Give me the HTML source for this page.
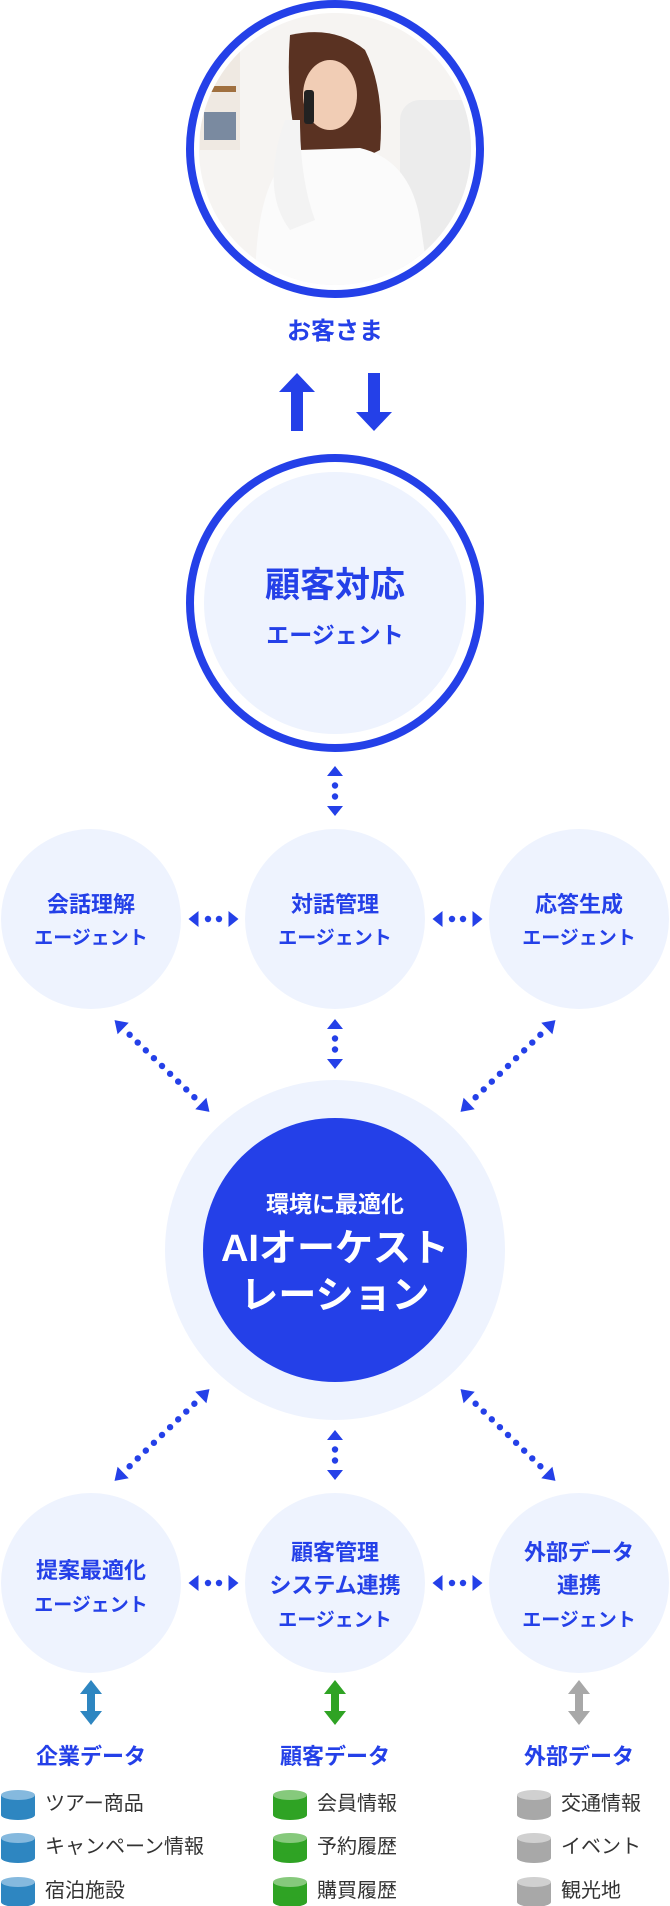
<!DOCTYPE html>
<html><head><meta charset="utf-8"><style>
html,body{margin:0;padding:0;background:#fff;}
svg{display:block;}
text{font-family:"Liberation Sans","Noto Sans CJK JP",sans-serif;}
.b{fill:#2440e8;font-weight:bold;text-anchor:middle;}
.it{fill:#333;font-size:20px;}
</style></head><body>
<svg width="670" height="1906" viewBox="0 0 670 1906" xmlns="http://www.w3.org/2000/svg">
<defs>
<clipPath id="pc"><circle cx="335" cy="149" r="136"/></clipPath>
<g id="sa"><polygon points="-25,0 -15,-8 -15,8"/><polygon points="25,0 15,-8 15,8"/><circle cx="-5.5" cy="0" r="3.2"/><circle cx="5.5" cy="0" r="3.2"/></g>
<g id="la"><polygon points="-66,0 -54,-8 -54,8"/><polygon points="66,0 54,-8 54,8"/>
<circle cx="-45" cy="0" r="3.2"/><circle cx="-33.75" cy="0" r="3.2"/><circle cx="-22.5" cy="0" r="3.2"/><circle cx="-11.25" cy="0" r="3.2"/><circle cx="0" cy="0" r="3.2"/><circle cx="11.25" cy="0" r="3.2"/><circle cx="22.5" cy="0" r="3.2"/><circle cx="33.75" cy="0" r="3.2"/><circle cx="45" cy="0" r="3.2"/></g>
</defs>
<!-- top photo circle -->
<circle cx="335" cy="149" r="145" fill="#fff" stroke="#2440e8" stroke-width="8"/>
<g clip-path="url(#pc)">
<rect x="190" y="10" width="300" height="280" fill="#f6f4f2"/>
<rect x="200" y="40" width="40" height="110" fill="#efe9e2"/>
<rect x="204" y="112" width="32" height="28" fill="#7a8aa0"/>
<rect x="208" y="86" width="28" height="6" fill="#a0703f"/>
<rect x="400" y="100" width="80" height="180" fill="#ececec" rx="20"/>
<path d="M290 35 Q335 25 365 50 Q385 90 380 150 L360 160 L300 160 Q285 100 290 35Z" fill="#5a3222"/>
<ellipse cx="330" cy="95" rx="27" ry="35" fill="#f1cdb5"/>
<path d="M255 290 Q255 170 300 150 L360 148 Q410 160 420 220 L430 290Z" fill="#fbfbfb"/>
<path d="M290 230 Q260 190 285 120 L300 120 Q300 180 315 220Z" fill="#f3f3f3"/>
<rect x="304" y="90" width="10" height="34" rx="3" fill="#222"/>
</g>
<text x="335" y="339" class="b" font-size="24">お客さま</text>
<!-- big arrows -->
<polygon points="297,373 315,392 303,392 303,431 291,431 291,392 279,392" fill="#2440e8"/>
<polygon points="374,431 392,412 380,412 380,373 368,373 368,412 356,412" fill="#2440e8"/>
<!-- customer response agent -->
<circle cx="335" cy="603" r="145" fill="#fff" stroke="#2440e8" stroke-width="8"/>
<circle cx="335" cy="603" r="131" fill="#eef3fe"/>
<text x="335" y="597" class="b" font-size="35">顧客対応</text>
<text x="335" y="643" class="b" font-size="23">エージェント</text>
<!-- top row circles -->
<circle cx="91" cy="919" r="90" fill="#eef3fe"/>
<circle cx="335" cy="919" r="90" fill="#eef3fe"/>
<circle cx="579" cy="919" r="90" fill="#eef3fe"/>
<text x="91" y="912" class="b" font-size="22">会話理解</text>
<text x="91" y="944" class="b" font-size="19">エージェント</text>
<text x="335" y="912" class="b" font-size="22">対話管理</text>
<text x="335" y="944" class="b" font-size="19">エージェント</text>
<text x="579" y="912" class="b" font-size="22">応答生成</text>
<text x="579" y="944" class="b" font-size="19">エージェント</text>
<!-- orchestration -->
<circle cx="335" cy="1250" r="170" fill="#eef3fe"/>
<circle cx="335" cy="1250" r="132" fill="#2440e8"/>
<text x="335" y="1212" fill="#fff" font-weight="bold" text-anchor="middle" font-size="23">環境に最適化</text>
<text x="335" y="1261" fill="#fff" font-weight="bold" text-anchor="middle" font-size="38">AIオーケスト</text>
<text x="335" y="1308" fill="#fff" font-weight="bold" text-anchor="middle" font-size="38">レーション</text>
<!-- bottom row circles -->
<circle cx="91" cy="1583" r="90" fill="#eef3fe"/>
<circle cx="335" cy="1583" r="90" fill="#eef3fe"/>
<circle cx="579" cy="1583" r="90" fill="#eef3fe"/>
<text x="91" y="1578" class="b" font-size="22">提案最適化</text>
<text x="91" y="1611" class="b" font-size="19">エージェント</text>
<text x="335" y="1560" class="b" font-size="22">顧客管理</text>
<text x="335" y="1593" class="b" font-size="22">システム連携</text>
<text x="335" y="1626" class="b" font-size="19">エージェント</text>
<text x="579" y="1560" class="b" font-size="22">外部データ</text>
<text x="579" y="1593" class="b" font-size="22">連携</text>
<text x="579" y="1626" class="b" font-size="19">エージェント</text>
<!-- dotted arrows -->
<g fill="#2440e8">
<use href="#sa" transform="translate(335,791) rotate(90)"/>
<use href="#sa" transform="translate(213.5,919)"/>
<use href="#sa" transform="translate(457.5,919)"/>
<use href="#sa" transform="translate(335,1044) rotate(90)"/>
<use href="#sa" transform="translate(335,1455) rotate(90)"/>
<use href="#sa" transform="translate(213.5,1583)"/>
<use href="#sa" transform="translate(457.5,1583)"/>
<use href="#la" transform="translate(162,1066) rotate(44)"/>
<use href="#la" transform="translate(508,1066) rotate(136)"/>
<use href="#la" transform="translate(162,1435) rotate(-44)"/>
<use href="#la" transform="translate(508,1435) rotate(44)"/>
</g>
<!-- thick double arrows -->
<polygon points="91,1680 102,1694 95,1694 95,1711 102,1711 91,1725 80,1711 87,1711 87,1694 80,1694" fill="#2e86c1"/>
<polygon points="335,1680 346,1694 339,1694 339,1711 346,1711 335,1725 324,1711 331,1711 331,1694 324,1694" fill="#2fa324"/>
<polygon points="579,1680 590,1694 583,1694 583,1711 590,1711 579,1725 568,1711 575,1711 575,1694 568,1694" fill="#a8a8a8"/>
<!-- data titles -->
<text x="91" y="1764" class="b" font-size="22">企業データ</text>
<text x="335" y="1764" class="b" font-size="22">顧客データ</text>
<text x="579" y="1764" class="b" font-size="22">外部データ</text>
<!-- cylinders -->
<g>
<g transform="translate(1,1789)"><rect x="0" y="6" width="34" height="20" fill="#2e86c1"/><ellipse cx="17" cy="26" rx="17" ry="5" fill="#2e86c1"/><ellipse cx="17" cy="6" rx="17" ry="5" fill="#85b9de"/></g>
<g transform="translate(1,1832)"><rect x="0" y="6" width="34" height="20" fill="#2e86c1"/><ellipse cx="17" cy="26" rx="17" ry="5" fill="#2e86c1"/><ellipse cx="17" cy="6" rx="17" ry="5" fill="#85b9de"/></g>
<g transform="translate(1,1876)"><rect x="0" y="6" width="34" height="20" fill="#2e86c1"/><ellipse cx="17" cy="26" rx="17" ry="5" fill="#2e86c1"/><ellipse cx="17" cy="6" rx="17" ry="5" fill="#85b9de"/></g>
<g transform="translate(273,1789)"><rect x="0" y="6" width="34" height="20" fill="#2fa324"/><ellipse cx="17" cy="26" rx="17" ry="5" fill="#2fa324"/><ellipse cx="17" cy="6" rx="17" ry="5" fill="#86c97c"/></g>
<g transform="translate(273,1832)"><rect x="0" y="6" width="34" height="20" fill="#2fa324"/><ellipse cx="17" cy="26" rx="17" ry="5" fill="#2fa324"/><ellipse cx="17" cy="6" rx="17" ry="5" fill="#86c97c"/></g>
<g transform="translate(273,1876)"><rect x="0" y="6" width="34" height="20" fill="#2fa324"/><ellipse cx="17" cy="26" rx="17" ry="5" fill="#2fa324"/><ellipse cx="17" cy="6" rx="17" ry="5" fill="#86c97c"/></g>
<g transform="translate(517,1789)"><rect x="0" y="6" width="34" height="20" fill="#a8a8a8"/><ellipse cx="17" cy="26" rx="17" ry="5" fill="#a8a8a8"/><ellipse cx="17" cy="6" rx="17" ry="5" fill="#d0d0d0"/></g>
<g transform="translate(517,1832)"><rect x="0" y="6" width="34" height="20" fill="#a8a8a8"/><ellipse cx="17" cy="26" rx="17" ry="5" fill="#a8a8a8"/><ellipse cx="17" cy="6" rx="17" ry="5" fill="#d0d0d0"/></g>
<g transform="translate(517,1876)"><rect x="0" y="6" width="34" height="20" fill="#a8a8a8"/><ellipse cx="17" cy="26" rx="17" ry="5" fill="#a8a8a8"/><ellipse cx="17" cy="6" rx="17" ry="5" fill="#d0d0d0"/></g>
</g>
<text x="45" y="1810" class="it">ツアー商品</text>
<text x="45" y="1853" class="it">キャンペーン情報</text>
<text x="45" y="1897" class="it">宿泊施設</text>
<text x="317" y="1810" class="it">会員情報</text>
<text x="317" y="1853" class="it">予約履歴</text>
<text x="317" y="1897" class="it">購買履歴</text>
<text x="561" y="1810" class="it">交通情報</text>
<text x="561" y="1853" class="it">イベント</text>
<text x="561" y="1897" class="it">観光地</text>
</svg>
</body></html>
